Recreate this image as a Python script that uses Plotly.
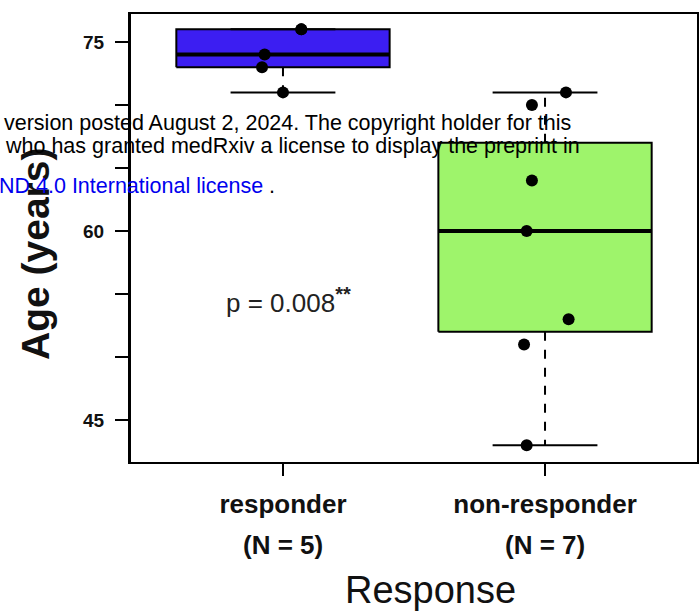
import numpy as np
import plotly.graph_objects as go

# ---- data ----
categories = ["responder", "non-responder"]
group_sizes = ["(N = 5)", "(N = 7)"]
responder_ages = [76, 74, 73, 71, 76]
nonresponder_ages = [71, 70, 64, 60, 53, 51, 43]
responder_jitter = [0.07, -0.07, -0.08, 0.0, 0.07]
nonresponder_jitter = [0.08, -0.05, -0.05, -0.07, 0.09, -0.08, -0.07]
box_colors = ["#3C1EF2", "#9EF46B"]
y_major_ticks = [45, 60, 75]
y_minor_step = 5
p_text = "p = 0.008<sup><span style='font-size:20px'><b>**</b></span></sup>"

groups = [responder_ages, nonresponder_ages]
jitters = [responder_jitter, nonresponder_jitter]


def tukey(vals):
    v = np.sort(np.array(vals, dtype=float))
    n = len(v)
    med = np.median(v)
    half = (n + 1) // 2
    lo = np.median(v[:half])
    hi = np.median(v[n - half:])
    iqr = hi - lo
    wlo = v[v >= lo - 1.5 * iqr].min()
    whi = v[v <= hi + 1.5 * iqr].max()
    return lo, med, hi, wlo, whi


fig = go.Figure()
BW = 0.407
CAP = 0.2
for i, (vals, col) in enumerate(zip(groups, box_colors)):
    x0 = i + 1
    lo, med, hi, wlo, whi = tukey(vals)
    fig.add_trace(go.Scatter(
        x=[x0 - BW, x0 + BW, x0 + BW, x0 - BW, x0 - BW],
        y=[lo, lo, hi, hi, lo], fill="toself", fillcolor=col,
        mode="lines", line=dict(color="black", width=2),
        hoverinfo="skip", showlegend=False))
    fig.add_trace(go.Scatter(x=[x0 - BW, x0 + BW], y=[med, med], mode="lines",
                             line=dict(color="black", width=4), showlegend=False))
    for a, b in [(lo, wlo), (hi, whi)]:
        if a != b:
            fig.add_trace(go.Scatter(x=[x0, x0], y=[a, b], mode="lines",
                                     line=dict(color="black", width=2, dash="dash"),
                                     showlegend=False))
    for w in [wlo, whi]:
        fig.add_trace(go.Scatter(x=[x0 - CAP, x0 + CAP], y=[w, w], mode="lines",
                                 line=dict(color="black", width=2), showlegend=False))

for i, (vals, jit) in enumerate(zip(groups, jitters)):
    fig.add_trace(go.Scatter(
        x=[i + 1 + j for j in jit], y=vals, mode="markers",
        marker=dict(color="black", size=12), showlegend=False))

fig.add_annotation(x=1.02, y=54.5, text=p_text, showarrow=False,
                   font=dict(family="Liberation Sans, Arial", size=26, color="#222"))

font_main = "Liberation Sans, Arial, sans-serif"
fig.update_layout(
    width=699, height=614,
    margin=dict(l=131, r=2, t=14, b=152, autoexpand=False),
    paper_bgcolor="white", plot_bgcolor="white",
    font=dict(family=font_main, color="black"),
    xaxis=dict(range=[0.42, 2.58], tickvals=[1, 2],
               ticktext=["<b>%s</b>" % c for c in categories],
               ticks="outside", ticklen=12, tickwidth=2, tickcolor="black",
               showgrid=False, zeroline=False, showline=True, linecolor="black",
               linewidth=2, mirror=True, automargin=False, ticklabelstandoff=6,
               tickfont=dict(size=26, color="#111")),
    yaxis=dict(range=[41.67, 77.22], tickvals=y_major_ticks,
               ticktext=["<b>%d</b>" % t for t in y_major_ticks],
               ticks="outside", ticklen=13, tickwidth=2, tickcolor="black",
               minor=dict(dtick=y_minor_step, tick0=45, ticks="outside", ticklen=13,
                          tickwidth=2, tickcolor="black", showgrid=False),
               showgrid=False, zeroline=False, showline=True, linecolor="black",
               linewidth=3, mirror=True, automargin=False, ticklabelstandoff=7,
               tickfont=dict(size=19, color="#111")),
)

PW = 566.0
PH = 448.0


def px(x):
    return (x - 131) / PW


def py(y):
    return 1 - (y - 14) / PH


for i, n in enumerate(group_sizes):
    fig.add_annotation(x=i + 1, xref="x", yref="paper", y=py(545), yanchor="middle",
                       text="<b>%s</b>" % n, showarrow=False,
                       font=dict(size=26, color="#111"))

fig.add_annotation(xref="paper", yref="paper", x=px(430), y=py(590), yanchor="middle",
                   text="Response", showarrow=False, font=dict(size=38, color="#111"))
fig.add_annotation(xref="paper", yref="paper", x=px(35), y=py(254), xanchor="center",
                   yanchor="middle", textangle=-90, text="<b>Age (years)</b>",
                   showarrow=False, font=dict(size=39, color="#111"))

notice_font = dict(family="Liberation Sans, Arial", size=21.5, color="black")
fig.add_annotation(xref="paper", yref="paper", x=px(2), y=py(123),
                   xanchor="left", yanchor="middle", showarrow=False,
                   text="version posted August 2, 2024. The copyright holder for this",
                   font=notice_font)
fig.add_annotation(xref="paper", yref="paper", x=px(3), y=py(146),
                   xanchor="left", yanchor="middle", showarrow=False,
                   text="who has granted medRxiv a license to display the preprint in",
                   font=notice_font)
fig.add_annotation(xref="paper", yref="paper", x=px(-3), y=py(186),
                   xanchor="left", yanchor="middle", showarrow=False,
                   text="<span style='color:#0000ee'>ND 4.0 International license</span> .",
                   font=notice_font)

fig.write_html("out.html", config={"displayModeBar": False},
               post_script="document.body.style.margin='0px';")
